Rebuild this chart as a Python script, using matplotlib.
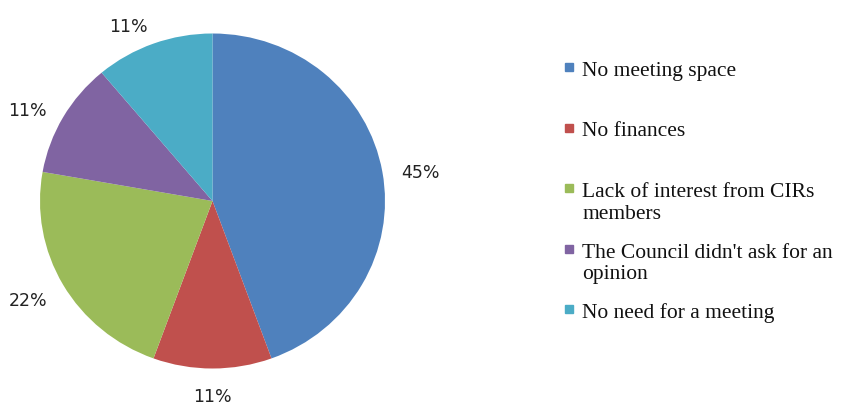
import numpy as np
import matplotlib.pyplot as plt
from matplotlib.patches import Rectangle

# responses (counts) and the printed percentage labels
categories = ["No meeting space", "No finances",
              "Lack of interest from CIRs\nmembers",
              "The Council didn't ask for an\nopinion",
              "No need for a meeting"]
counts = [4, 1, 2, 1, 1]
pct_labels = ["45%", "11%", "22%", "11%", "11%"]
colors = ["#4F81BD", "#C0504D", "#9BBB59", "#8064A2", "#4BACC6"]

W, H = 846, 405
fig = plt.figure(figsize=(W / 100, H / 100), dpi=100)

# pie axes (pixels from top-left): the original is slightly squashed
cx, cy, rx, ry = 212.5, 201, 172.5, 167.5
ax = fig.add_axes([(cx - rx) / W, (H - cy - ry) / H, 2 * rx / W, 2 * ry / H])
wedges, _ = ax.pie(counts, colors=colors, startangle=90, counterclock=False,
                   wedgeprops=dict(linewidth=0))
ax.set_aspect("auto")
ax.set_xlim(-1, 1)
ax.set_ylim(-1, 1)
ax.axis("off")

for w, lab in zip(wedges, pct_labels):
    ang = np.deg2rad((w.theta1 + w.theta2) / 2)
    dx, dy = np.cos(ang), np.sin(ang)
    sx = 0 if abs(dx) < 1e-6 else np.sign(dx)
    # rim point plus a pixel offset outward (gap + half label width)
    ox = 20 * dx + 18 * sx
    oy = 23 * dy - 5
    ax.text(dx + ox / rx, dy + oy / ry, lab, ha="center", va="center",
            fontsize=12.5, family="DejaVu Sans", color="#222222")

# legend drawn by hand so entries sit on an even grid like the original
x_box, x_txt = 565, 582
base0, step, line_h = 76, 60.5, 22
for i, (lab, c) in enumerate(zip(categories, colors)):
    base = base0 + i * step
    fig.add_artist(Rectangle((x_box / W, (H - base + 5) / H), 8 / W, 8 / H,
                             transform=fig.transFigure, color=c))
    for j, line in enumerate(lab.split("\n")):
        fig.text(x_txt / W, (H - base - j * line_h) / H, line, ha="left",
                 va="baseline", fontsize=15.5, family="Liberation Serif",
                 color="#111111")

fig.savefig("out.png", dpi=100)
